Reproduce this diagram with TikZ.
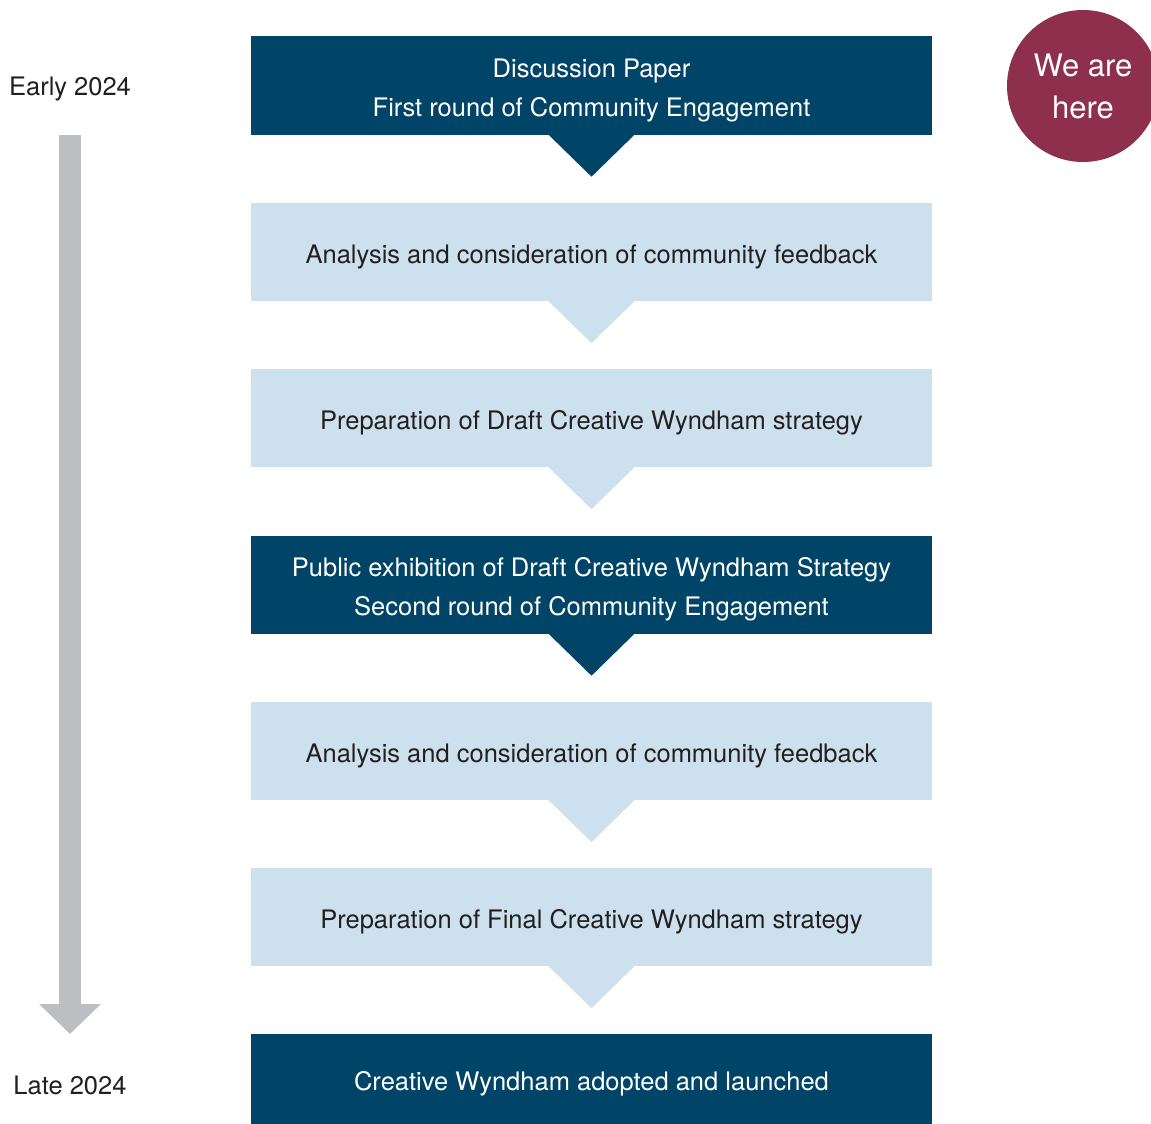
\documentclass[tikz,border=0pt]{standalone}
\usepackage{fontspec}
\setmainfont{TeX Gyre Heros}
\usetikzlibrary{arrows.meta}
\definecolor{wdark}{HTML}{004468}
\definecolor{wlight}{HTML}{CCE1ED}
\definecolor{wgrey}{HTML}{BDBEC2}
\definecolor{wplum}{HTML}{8E304D}
\definecolor{wtext}{HTML}{231F20}
\tikzset{
  stage/.style={rectangle, minimum width=681, minimum height=98, inner sep=0pt},
  stagetext/.style={align=center, inner sep=0pt, yshift=-4.5pt, font=\fontsize{25.5}{39}\selectfont},
  darkstage/.style={stage, fill=wdark, label={[stagetext, text=white]center:#1}},
  lightstage/.style={stage, fill=wlight, label={[stagetext, text=wtext]center:#1}},
  when/.style={font=\fontsize{25.5}{28}\selectfont, text=wtext},
}
\newcommand\pointer[2]{% \pointer{colour}{node}
\fill[#1] (#2.south) ++(-43,0) -- ++(43,42) -- ++(43,-42) -- cycle;
}

\begin{document}
\begin{tikzpicture}[x=1pt,y=-1pt]
	\useasboundingbox (0,0) rectangle (1151,1124);
	%% stages
	\node[darkstage={Discussion Paper\\First round of Community Engagement}] (s1) at (591.5,85.5) {};
	\node[lightstage={Analysis and consideration of community feedback}] (s2) at (591.5,252) {};
	\node[lightstage={Preparation of Draft Creative Wyndham strategy}] (s3) at (591.5,418) {};
	\node[darkstage={Public exhibition of Draft Creative Wyndham Strategy\\Second round of Community Engagement}] (s4) at (591.5,584.5) {};
	\node[lightstage={Analysis and consideration of community feedback}] (s5) at (591.5,751) {};
	\node[lightstage={Preparation of Final Creative Wyndham strategy}] (s6) at (591.5,917) {};
	\node[darkstage={Creative Wyndham adopted and launched}, minimum height=90] (s7) at (591.5,1079) {};
	\pointer{wdark}{s1}
	\pointer{wlight}{s2}
	\pointer{wlight}{s3}
	\pointer{wdark}{s4}
	\pointer{wlight}{s5}
	\pointer{wlight}{s6}
	%% timeline
	\node[when] (early) at (70,88.5) {Early 2024};
	\node[when] (late)  at (70,1085) {Late 2024};
	\coordinate (tstart) at (70,135);
	\coordinate (tend)   at (70,1034);
	\draw[wgrey, line width=22, -{Triangle[width=60pt,length=30pt]}] (tstart) -- (tend);
	%% marker
	\begin{scope}
		\clip (0,0) rectangle (1151,1124);
		\node[circle, fill=wplum, minimum size=152, inner sep=0pt, align=center, text=white,
		  font=\fontsize{31}{42}\selectfont] (here) at (1083,86) {We are\\here};
	\end{scope}
\end{tikzpicture}
\end{document}
